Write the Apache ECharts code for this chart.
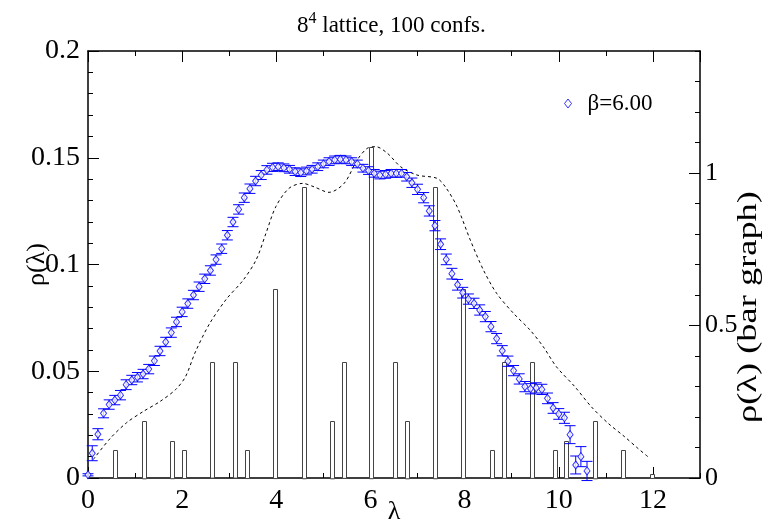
<!DOCTYPE html>
<html>
<head>
<meta charset="utf-8">
<script src="https://cdn.jsdelivr.net/npm/echarts@6/dist/echarts.min.js"></script>
<style>
  html, body { margin: 0; padding: 0; background: #fff; }
  #chart { width: 763px; height: 525px; }
</style>
</head>
<body>
<div id="chart"></div>
<script>
// spectral density points (blue diamonds with error bars)
const lam = [0.00, 0.09, 0.21, 0.33, 0.45, 0.57, 0.69, 0.81, 0.93, 1.05,
  1.17, 1.29, 1.41, 1.53, 1.65, 1.77, 1.88, 2.00, 2.12, 2.24,
  2.36, 2.48, 2.60, 2.72, 2.84, 2.96, 3.08, 3.20, 3.32, 3.44,
  3.56, 3.68, 3.80, 3.92, 4.04, 4.16, 4.28, 4.40, 4.52, 4.64,
  4.76, 4.88, 5.00, 5.12, 5.24, 5.36, 5.48, 5.60, 5.72, 5.84,
  5.96, 6.08, 6.20, 6.32, 6.44, 6.55, 6.66, 6.77, 6.88, 7.00,
  7.13, 7.25, 7.37, 7.49, 7.61, 7.73, 7.85, 7.96, 8.08, 8.20,
  8.32, 8.44, 8.56, 8.68, 8.80, 8.92, 9.04, 9.16, 9.28, 9.40,
  9.52, 9.64, 9.76, 9.88, 10.00, 10.12, 10.24, 10.36, 10.47, 10.60];
const rho = [0.0015, 0.0116, 0.0205, 0.0303, 0.0344, 0.0365, 0.0388, 0.0437, 0.0459, 0.0472,
  0.0487, 0.0510, 0.0549, 0.0595, 0.0637, 0.0681, 0.0731, 0.0778, 0.0817, 0.0857,
  0.0896, 0.0933, 0.0972, 0.1023, 0.1074, 0.1137, 0.1199, 0.1258, 0.1313, 0.1355,
  0.1391, 0.1419, 0.1443, 0.1455, 0.1458, 0.1453, 0.1446, 0.1435, 0.1430, 0.1438,
  0.1446, 0.1458, 0.1471, 0.1482, 0.1490, 0.1493, 0.1490, 0.1482, 0.1471, 0.1451,
  0.1440, 0.1427, 0.1419, 0.1422, 0.1427, 0.1427, 0.1427, 0.1411, 0.1383, 0.1352,
  0.1313, 0.1251, 0.1182, 0.1095, 0.1024, 0.0957, 0.0905, 0.0868, 0.0838, 0.0818,
  0.0787, 0.0756, 0.0709, 0.0653, 0.0596, 0.0547, 0.0503, 0.0464, 0.0428, 0.0418,
  0.0422, 0.0415, 0.0373, 0.0328, 0.0300, 0.0282, 0.0203, 0.0061, 0.0100, 0.0033];
const err = [0.0005, 0.0035, 0.0026, 0.0021, 0.0022, 0.0022, 0.0022, 0.0023, 0.0022, 0.0022,
  0.0022, 0.0022, 0.0022, 0.0022, 0.0022, 0.0022, 0.0022, 0.0022, 0.0022, 0.0022,
  0.0022, 0.0022, 0.0022, 0.0022, 0.0022, 0.0022, 0.0022, 0.0022, 0.0022, 0.0022,
  0.0022, 0.0021, 0.0020, 0.0019, 0.0018, 0.0018, 0.0018, 0.0018, 0.0018, 0.0018,
  0.0018, 0.0018, 0.0018, 0.0018, 0.0018, 0.0018, 0.0018, 0.0018, 0.0018, 0.0018,
  0.0018, 0.0018, 0.0018, 0.0018, 0.0018, 0.0018, 0.0018, 0.0020, 0.0022, 0.0024,
  0.0024, 0.0024, 0.0024, 0.0025, 0.0025, 0.0025, 0.0025, 0.0025, 0.0024, 0.0024,
  0.0024, 0.0024, 0.0024, 0.0024, 0.0024, 0.0024, 0.0024, 0.0024, 0.0024, 0.0024,
  0.0024, 0.0024, 0.0025, 0.0025, 0.0025, 0.0026, 0.0042, 0.0042, 0.0047, 0.0045];

// dashed reference curve
const dashLam = [0.11, 0.47, 0.82, 1.17, 1.52, 1.86, 2.07, 2.28, 2.58, 2.94, 3.29, 3.57, 3.78,
  3.99, 4.27, 4.56, 4.80, 5.12, 5.44, 5.72, 5.93, 6.11, 6.36, 6.64, 6.99, 7.41, 7.59,
  7.84, 8.12, 8.40, 8.68, 9.04, 9.39, 9.67, 9.95, 10.34, 10.69, 11.05, 11.40, 11.68, 11.92];
const dashRho = [0.0086, 0.0185, 0.0259, 0.0311, 0.0357, 0.0414, 0.0474, 0.0590, 0.0722, 0.0838,
  0.0925, 0.1021, 0.1146, 0.1271, 0.1357, 0.1380, 0.1364, 0.1338, 0.1380, 0.1490, 0.1544,
  0.1552, 0.1521, 0.1458, 0.1419, 0.1404, 0.1364, 0.1271, 0.1115, 0.0974, 0.0865, 0.0771,
  0.0693, 0.0615, 0.0521, 0.0428, 0.0334, 0.0256, 0.0193, 0.0139, 0.0095];

// bar graph (right axis)
const barLam = [0.58, 1.19, 1.79, 2.03, 2.64, 3.12, 3.37, 3.97, 4.58, 5.19, 5.43, 6.02,
  6.52, 6.77, 7.37, 7.97, 8.58, 8.83, 9.43, 9.93, 10.16, 10.77, 11.37, 11.98];
const barVal = [0.092, 0.188, 0.122, 0.092, 0.379, 0.379, 0.092, 0.62, 0.955, 0.188, 0.38, 1.086,
  0.38, 0.188, 0.955, 0.62, 0.092, 0.38, 0.38, 0.092, 0.122, 0.188, 0.092, 0.013];

const serif = "'Liberation Serif', 'Times New Roman', serif";
const blue = '#0000ff';

const chart = echarts.init(document.getElementById('chart'), null, { renderer: 'canvas' });

const frameLine = { show: true, onZero: false, lineStyle: { color: '#000', width: 1.5 } };
const noLabel = { show: false };
const majorTick = { show: true, inside: true, length: 11, lineStyle: { color: '#000', width: 1 } };
const minorTickA = { show: true, inside: true, length: 5, lineStyle: { color: '#000', width: 1 } };
const labelFont = { fontFamily: serif, fontSize: 28, fontWeight: 'normal', color: '#000' };

const option = {
  animation: false,
  backgroundColor: '#fff',
  textStyle: { fontFamily: serif },
  title: {
    text: '{a|8}{s|4}{a| lattice, 100 confs.}',
    left: 292,
    top: 6,
    textStyle: {
      fontWeight: 'normal',
      rich: {
        a: { fontFamily: serif, fontSize: 23, fontWeight: 'normal', color: '#000' },
        s: { fontFamily: serif, fontSize: 16, fontWeight: 'normal', color: '#000', padding: [0, 0, 13, 0] }
      }
    }
  },
  legend: {
    left: 559,
    top: 87,
    itemWidth: 7,
    itemHeight: 9,
    data: [{
      name: 'β=6.00',
      icon: 'diamond',
      itemStyle: { color: 'rgba(0,0,0,0)', borderColor: blue, borderWidth: 1 }
    }],
    textStyle: { fontFamily: serif, fontSize: 23, color: '#000', padding: [0, 0, 0, 11] }
  },
  grid: { left: 88, right: 63, top: 51, bottom: 47, containLabel: false, outerBoundsMode: 'none' },
  xAxis: [
    {
      type: 'value', position: 'bottom', min: 0, max: 13, interval: 2,
      axisLine: frameLine,
      axisTick: majorTick,
      axisLabel: Object.assign({ margin: 9, showMaxLabel: false }, labelFont),
      splitLine: { show: false }
    },
    {
      type: 'value', position: 'bottom', min: 0, max: 13, interval: 1,
      axisLine: { show: false, onZero: false },
      axisTick: minorTickA,
      axisLabel: noLabel, splitLine: { show: false }
    },
    {
      type: 'value', position: 'top', min: 0, max: 13, interval: 2,
      axisLine: frameLine,
      axisTick: majorTick,
      axisLabel: noLabel, splitLine: { show: false }
    },
    {
      type: 'value', position: 'top', min: 0, max: 13, interval: 1,
      axisLine: { show: false, onZero: false },
      axisTick: minorTickA,
      axisLabel: noLabel, splitLine: { show: false }
    }
  ],
  yAxis: [
    {
      type: 'value', position: 'left', min: 0, max: 0.2, interval: 0.05,
      axisLine: frameLine,
      axisTick: majorTick,
      minorTick: { show: true, splitNumber: 5, length: 5, lineStyle: { color: '#000', width: 1 } },
      axisLabel: Object.assign({ margin: 8 }, labelFont),
      splitLine: { show: false }, minorSplitLine: { show: false },
      name: 'ρ(λ)', nameLocation: 'middle', nameGap: 38, nameMoveOverlap: false,
      nameTextStyle: { fontFamily: serif, fontSize: 26, color: '#000' }
    },
    {
      type: 'value', position: 'right', min: 0, max: 1.4, interval: 0.5,
      axisLine: frameLine,
      axisTick: majorTick,
      axisLabel: Object.assign({ margin: 5, showMaxLabel: false }, labelFont, { fontSize: 26 }),
      splitLine: { show: false }
    },
    {
      type: 'value', position: 'right', min: 0, max: 1.4, interval: 0.1,
      axisLine: { show: false, onZero: false },
      axisTick: minorTickA,
      axisLabel: noLabel, splitLine: { show: false }
    }
  ],
  graphic: [
    {
      type: 'text',
      x: 394, y: 512,
      style: {
        text: 'λ',
        fontFamily: serif,
        fontSize: 26,
        fill: '#000',
        align: 'center',
        verticalAlign: 'middle'
      }
    },
    {
      type: 'text',
      x: 749, y: 307,
      rotation: Math.PI / 2,
      scaleX: 1.3,
      style: {
        text: 'ρ(λ) (bar graph)',
        fontFamily: serif,
        fontSize: 28,
        fill: '#000',
        align: 'center',
        verticalAlign: 'middle'
      }
    }
  ],
  series: [
    {
      type: 'custom', name: 'bars', xAxisIndex: 0, yAxisIndex: 1, z: 1, silent: true,
      data: barLam.map((x, i) => [x, barVal[i]]),
      renderItem: function (params, api) {
        const p0 = api.coord([api.value(0), 0]);
        const p1 = api.coord([api.value(0), api.value(1)]);
        return {
          type: 'rect',
          shape: { x: Math.round(p0[0]) - 1.5, y: Math.round(p1[1]) + 0.5, width: 4, height: p0[1] - p1[1] },
          style: { fill: '#fff', stroke: '#444', lineWidth: 1 }
        };
      }
    },
    {
      type: 'line', name: 'dash', xAxisIndex: 0, yAxisIndex: 0, z: 2, silent: true,
      data: dashLam.map((x, i) => [x, dashRho[i]]),
      smooth: 0.3, showSymbol: false, symbol: 'none',
      lineStyle: { color: '#000', width: 1, type: [3, 3] }
    },
    {
      type: 'custom', name: 'errors', xAxisIndex: 0, yAxisIndex: 0, z: 3, silent: true,
      data: lam.map((x, i) => [x, rho[i] - err[i], rho[i] + err[i]]),
      encode: { x: 0, y: [1, 2] },
      renderItem: function (params, api) {
        const lo = api.coord([api.value(0), api.value(1)]);
        const hi = api.coord([api.value(0), api.value(2)]);
        const cw = 5.5;
        const st = { stroke: blue, lineWidth: 1 };
        return {
          type: 'group',
          children: [
            { type: 'line', shape: { x1: lo[0], y1: lo[1], x2: hi[0], y2: hi[1] }, style: st },
            { type: 'line', shape: { x1: lo[0] - cw, y1: lo[1], x2: lo[0] + cw, y2: lo[1] }, style: st },
            { type: 'line', shape: { x1: hi[0] - cw, y1: hi[1], x2: hi[0] + cw, y2: hi[1] }, style: st }
          ]
        };
      }
    },
    {
      type: 'scatter', name: 'β=6.00', xAxisIndex: 0, yAxisIndex: 0, z: 4,
      data: lam.map((x, i) => [x, rho[i]]),
      symbol: 'diamond', symbolSize: [6, 8],
      itemStyle: { color: '#fff', borderColor: blue, borderWidth: 1 }
    }
  ]
};

chart.setOption(option);
</script>
</body>
</html>
